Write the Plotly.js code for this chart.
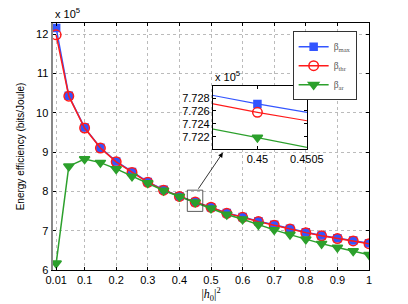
<!DOCTYPE html>
<html><head><meta charset="utf-8">
<script src="https://cdn.plot.ly/plotly-3.0.1.min.js"></script>
<style>html,body{margin:0;padding:0;background:#fff;}#chart{width:408px;height:304px;}</style>
</head><body><div id="chart"></div>
<script>
// values in units of 10^5 bits/Joule
var h0sq = [0.01,0.05,0.1,0.15,0.2,0.25,0.3,0.35,0.4,0.45,0.5,0.55,0.6,0.65,0.7,0.75,0.8,0.85,0.9,0.95,1.0];
var betaMax = [12.15,10.43,9.62,9.11,8.76,8.49,8.24,8.04,7.8720,7.7271,7.5971,7.45,7.35,7.24,7.15,7.05,6.96,6.88,6.81,6.75,6.68];
var betaThe = [11.98,10.42,9.61,9.10,8.75,8.48,8.23,8.03,7.8708,7.7258,7.5958,7.44,7.34,7.23,7.14,7.04,6.95,6.87,6.80,6.74,6.67];
var betaAr  = [6.17,8.64,8.82,8.73,8.57,8.38,8.21,8.02,7.8680,7.7219,7.5719,7.41,7.29,7.15,7.02,6.90,6.78,6.67,6.57,6.48,6.39];
var xTicks = [0.01,0.1,0.2,0.3,0.4,0.5,0.6,0.7,0.8,0.9,1];
var xTickText = ['0.01','0.1','0.2','0.3','0.4','0.5','0.6','0.7','0.8','0.9','1'];
var yTicks = [6,7,8,9,10,11,12];
var insetXTicks = [0.45,0.4505];
var insetYTicks = [7.722,7.724,7.726,7.728];
var names = ['β<sub>max</sub>','β<sub>thr</sub>','β<sub>ar</sub>'];

var cBlue = '#3355ff', cRed = '#ff1a1a', cGreen = '#2ca02c';
var FONT = 'Liberation Sans, Arial, sans-serif';

function mk(y, name, color, sym, msize, mcolor, mline, xa, ya, show) {
  return {x: h0sq, y: y, name: name, type: 'scatter', mode: 'lines+markers',
    xaxis: xa, yaxis: ya, showlegend: show,
    line: {color: color, width: 1.5},
    marker: {symbol: sym, size: msize, color: mcolor, line: {color: mline, width: 1.5}}};
}
var data = [
  mk(betaMax, names[0], cBlue, 'square', 7, cBlue, cBlue, 'x', 'y', true),
  mk(betaThe, names[1], cRed, 'circle-open', 9.5, cRed, cRed, 'x', 'y', true),
  mk(betaAr, names[2], cGreen, 'triangle-down', 9, cGreen, cGreen, 'x', 'y', true),
  mk(betaMax, names[0], cBlue, 'square', 7, cBlue, cBlue, 'x2', 'y2', false),
  mk(betaThe, names[1], cRed, 'circle-open', 9.5, cRed, cRed, 'x2', 'y2', false),
  mk(betaAr, names[2], cGreen, 'triangle-down', 9, cGreen, cGreen, 'x2', 'y2', false)
];
data.forEach(function(t){ if (t.xaxis==='x2') { t.line.width = 1.2; } });

var layout = {
  width: 408, height: 304,
  margin: {l: 53.4, r: 38.6, t: 23.3, b: 34},
  paper_bgcolor: '#fff', plot_bgcolor: '#fff',
  font: {family: FONT, size: 11, color: '#000'},
  showlegend: true,
  legend: {x: 0.759, y: 0.966, xanchor: 'left', yanchor: 'top',
    bgcolor: '#fff', bordercolor: '#000', borderwidth: 0.8,
    font: {family: 'Liberation Serif, serif', size: 9.5, color: '#555'},
    itemwidth: 30, tracegroupgap: 0},
  xaxis: {domain: [0,1], range: [0,1], tickvals: xTicks, ticktext: xTickText,
    ticks: 'inside', ticklen: 3, tickcolor: '#000', showline: true, linecolor: '#000', linewidth: 1,
    mirror: 'ticks', showgrid: true, gridcolor: '#aaa', griddash: 'dot', gridwidth: 0.8,
    zeroline: false, tickfont: {size: 11},
    title: {text: '|<i>h</i><sub>0</sub>|<sup>2</sup>', font: {family: 'Liberation Serif, serif', size: 12}, standoff: 2}},
  yaxis: {domain: [0,1], range: [6, 12.28], tickvals: yTicks,
    ticks: 'inside', ticklen: 3, tickcolor: '#000', showline: true, linecolor: '#888', linewidth: 2.5,
    mirror: false, showgrid: true, gridcolor: '#aaa', griddash: 'dot', gridwidth: 0.8,
    zeroline: false, tickfont: {size: 11},
    title: {text: 'Energy efficiency (bits/Joule)', font: {size: 10}, standoff: 10}},
  yaxis3: {overlaying: 'y', side: 'right', range: [6, 12.28], tickvals: yTicks,
    ticks: 'inside', ticklen: 3, tickcolor: '#000', showline: true, linecolor: '#000', linewidth: 1,
    showticklabels: false, showgrid: false, zeroline: false},
  xaxis2: {domain: [0.506, 0.8035], anchor: 'y2', range: [0.44955, 0.4505],
    tickvals: insetXTicks, ticktext: ['0.45','0.4505'],
    ticks: 'inside', ticklen: 3, tickcolor: '#000', showline: true, linecolor: '#000', linewidth: 1,
    mirror: 'ticks', showgrid: false, zeroline: false, tickfont: {size: 11}},
  yaxis2: {domain: [0.489, 0.746], anchor: 'x2', range: [7.7201, 7.7299],
    tickvals: insetYTicks, tickformat: '.3f',
    ticks: 'inside', ticklen: 3, tickcolor: '#000', showline: true, linecolor: '#000', linewidth: 1,
    mirror: 'ticks', showgrid: false, zeroline: false, tickfont: {size: 11}},
  shapes: [
    {type: 'rect', xref: 'x2', yref: 'y2', x0: 0.44955, x1: 0.4505, y0: 7.7201, y1: 7.7299,
      fillcolor: '#fff', line: {width: 0}, layer: 'between'},
    {type: 'rect', xref: 'x', yref: 'y', x0: 0.425, x1: 0.474, y0: 7.49, y1: 8.03,
      line: {color: '#333', width: 0.8}, fillcolor: 'rgba(0,0,0,0)'}
  ],
  annotations: [
    {xref: 'x', yref: 'y', x: 0.5377, y: 8.986, ax: 0.457, ay: 8.03, axref: 'x', ayref: 'y',
      showarrow: true, arrowhead: 2, arrowsize: 1.2, arrowwidth: 0.8, arrowcolor: '#000', text: ''},
    {xref: 'paper', yref: 'paper', x: 0, y: 1, xanchor: 'left', yanchor: 'bottom', yshift: 1,
      text: 'x 10<sup>5</sup>', showarrow: false, font: {size: 11}},
    {xref: 'paper', yref: 'paper', x: 0.506, y: 0.746, xanchor: 'left', yanchor: 'bottom', yshift: 1,
      text: 'x 10<sup>5</sup>', showarrow: false, font: {size: 11}}
  ]
};
// companion trace for the right-side tick axis
data.push({x: [0], y: [0], yaxis: 'y3', xaxis: 'x', showlegend: false, hoverinfo: 'skip',
  mode: 'markers', marker: {opacity: 0}});
Plotly.newPlot('chart', data, layout, {displayModeBar: false, staticPlot: true});
</script></body></html>
